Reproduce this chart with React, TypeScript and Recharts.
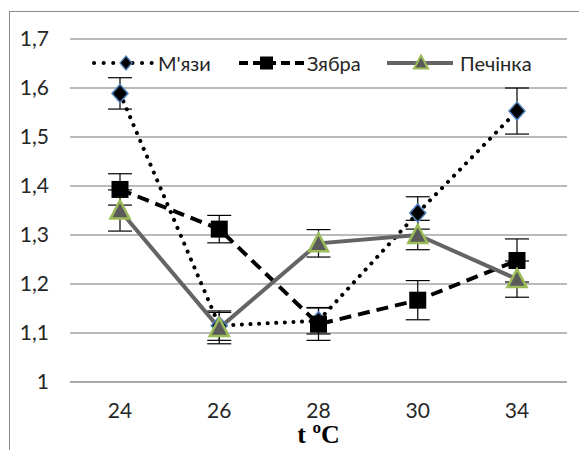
import React from "react";
import { LineChart, Line, XAxis, YAxis, CartesianGrid, ErrorBar } from "recharts";

// Temperature groups (x axis)
const temps = ["24", "26", "28", "30", "34"];

// Series values
const muscle = [1.589, 1.115, 1.125, 1.345, 1.553];
const muscleErr = [0.032, 0.03, 0.027, 0.033, 0.047];
const gills = [1.393, 1.312, 1.118, 1.167, 1.248];
const gillsErr = [0.032, 0.028, 0.033, 0.04, 0.044];
const liver = [1.35, 1.11, 1.283, 1.3, 1.21];
const liverErr = [0.042, 0.032, 0.028, 0.03, 0.037];

const yTicks = [1, 1.1, 1.2, 1.3, 1.4, 1.5, 1.6, 1.7];

const data = temps.map((t, i) => ({
  t,
  muscle: muscle[i],
  muscleErr: muscleErr[i],
  gills: gills[i],
  gillsErr: gillsErr[i],
  liver: liver[i],
  liverErr: liverErr[i],
}));

const FONT = "Lato, 'Noto Sans', sans-serif";
const TEXT = "#262626";
const GRID = "#a3a3a3";
const LIVER_LINE = "#646464";

function diamond(cx: number, cy: number, r: number) {
  return `${cx},${cy - r - 1} ${cx + r},${cy} ${cx},${cy + r + 1} ${cx - r},${cy}`;
}

function triangle(cx: number, cy: number, w: number, h: number) {
  return `${cx},${cy - h / 2 - 2} ${cx + w / 2},${cy + h / 2} ${cx - w / 2},${cy + h / 2}`;
}

const DiamondDot = (p: any) => {
  const { cx, cy, index } = p;
  if (cx == null || cy == null) return <g key={`md${index}`} />;
  return (
    <polygon
      key={`md${index}`}
      points={diamond(cx, cy, 8)}
      fill="#000"
      stroke="#4f81bd"
      strokeWidth={1.5}
    />
  );
};

const SquareDot = (p: any) => {
  const { cx, cy, index } = p;
  if (cx == null || cy == null) return <g key={`gs${index}`} />;
  return <rect key={`gs${index}`} x={cx - 8.5} y={cy - 8.5} width={17} height={17} fill="#000" />;
};

const TriangleDot = (p: any) => {
  const { cx, cy, index } = p;
  if (cx == null || cy == null) return <g key={`lt${index}`} />;
  return (
    <polygon
      key={`lt${index}`}
      points={triangle(cx, cy, 19, 16)}
      fill="#5a5a5a"
      stroke="#9bbb59"
      strokeWidth={2.5}
      strokeLinejoin="miter"
    />
  );
};

function LegendOverlay() {
  const cy = 63;
  return (
    <svg
      width={579}
      height={450}
      style={{ position: "absolute", left: 0, top: 0, pointerEvents: "none" }}
    >
      {/* М'язи */}
      <line x1={94} y1={cy} x2={152} y2={cy} stroke="#000" strokeWidth={4} strokeDasharray="0.1 9.5" strokeLinecap="round" />
      <polygon points={diamond(126, cy, 6)} fill="#000" stroke="#4f81bd" strokeWidth={1.2} />
      <text x={158} y={cy} dominantBaseline="central" fontFamily={FONT} fontSize={20} fill={TEXT}>
        М'язи
      </text>
      {/* Зябра */}
      <line x1={239} y1={cy} x2={304} y2={cy} stroke="#000" strokeWidth={4} strokeDasharray="9 5" />
      <rect x={260} y={cy - 6.5} width={13} height={13} fill="#000" />
      <text x={307} y={cy} dominantBaseline="central" fontFamily={FONT} fontSize={20} fill={TEXT}>
        Зябра
      </text>
      {/* Печінка */}
      <line x1={387} y1={cy} x2={453} y2={cy} stroke={LIVER_LINE} strokeWidth={4} />
      <polygon points={triangle(421, cy, 14, 11)} fill="#5a5a5a" stroke="#9bbb59" strokeWidth={2} />
      <text x={460} y={cy} dominantBaseline="central" fontFamily={FONT} fontSize={20} fill={TEXT}>
        Печінка
      </text>
    </svg>
  );
}

const fmtY = (v: number) => (Number.isInteger(v) ? String(v) : v.toFixed(1).replace(".", ","));

export default function App() {
  return (
    <div
      style={{
        position: "absolute",
        left: 0,
        top: 0,
        width: 579,
        height: 450,
        overflow: "hidden",
        background: "#fff",
      }}
    >
      {/* outer chart frame, clipped on the right and bottom */}
      <div
        style={{
          position: "absolute",
          left: 9,
          top: 11,
          width: 620,
          height: 500,
          border: "1.5px solid #8a8a8a",
        }}
      />
      <LineChart
        width={579}
        height={450}
        data={data}
        margin={{ top: 39, right: 12, bottom: 0, left: 0 }}
        style={{ position: "absolute", left: 0, top: 0 }}
      >
        <CartesianGrid horizontal vertical={false} stroke={GRID} strokeWidth={1.3} />
        <XAxis
          dataKey="t"
          padding={{ left: 50, right: 50 }}
          height={68}
          tickLine={false}
          axisLine={{ stroke: GRID, strokeWidth: 1.3 }}
          tickMargin={15}
          tick={{ fontSize: 21, fill: TEXT, fontFamily: FONT }}
          label={{
            value: "t ºC",
            position: "insideBottom",
            offset: 7,
            style: {
              fontFamily: "'Liberation Serif', 'Times New Roman', serif",
              fontWeight: "bold",
              fontSize: 26,
              fill: "#000",
            },
          }}
        />
        <YAxis
          width={70}
          domain={[1, 1.7]}
          ticks={yTicks}
          tickFormatter={fmtY}
          axisLine={false}
          tickLine={false}
          tickMargin={15}
          tick={{ fontSize: 21, fill: TEXT, fontFamily: FONT }}
        />
        <Line
          dataKey="muscle"
          type="linear"
          stroke="#000"
          strokeWidth={4}
          strokeDasharray="0.1 8.5"
          strokeLinecap="round"
          dot={DiamondDot}
          activeDot={false}
          isAnimationActive={false}
        >
          <ErrorBar dataKey="muscleErr" width={12} stroke="#000" strokeWidth={1.2} direction="y" />
        </Line>
        <Line
          dataKey="gills"
          type="linear"
          stroke="#000"
          strokeWidth={4}
          strokeDasharray="12 7"
          dot={SquareDot}
          activeDot={false}
          isAnimationActive={false}
        >
          <ErrorBar dataKey="gillsErr" width={12} stroke="#000" strokeWidth={1.2} direction="y" />
        </Line>
        <Line
          dataKey="liver"
          type="linear"
          stroke={LIVER_LINE}
          strokeWidth={4}
          dot={TriangleDot}
          activeDot={false}
          isAnimationActive={false}
        >
          <ErrorBar dataKey="liverErr" width={12} stroke="#000" strokeWidth={1.2} direction="y" />
        </Line>
      </LineChart>
      <LegendOverlay />
    </div>
  );
}
